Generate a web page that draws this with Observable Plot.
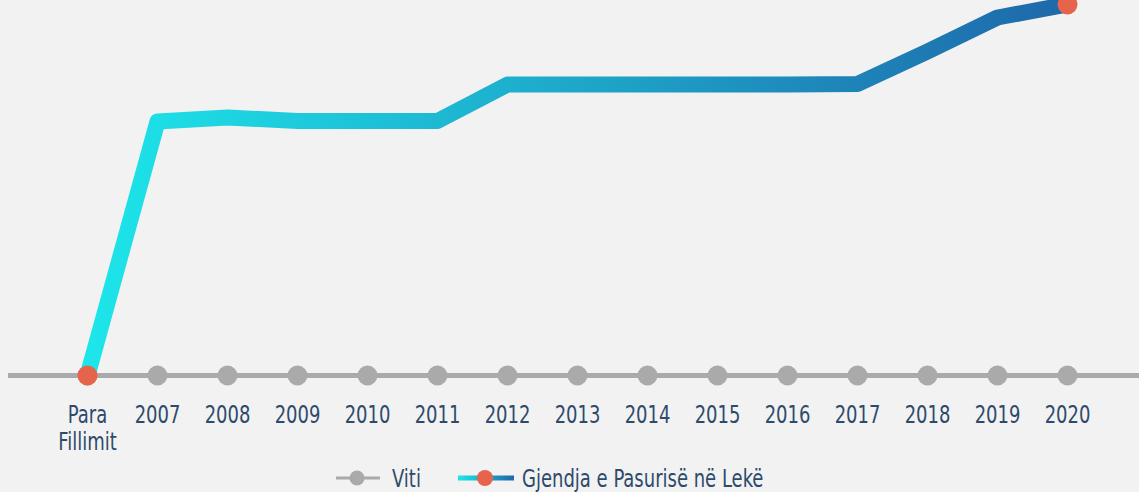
<!DOCTYPE html>
<html><head><meta charset="utf-8">
<script src="https://cdn.jsdelivr.net/npm/d3@7"></script>
<script src="https://cdn.jsdelivr.net/npm/@observablehq/plot@0.6"></script>
<style>
html,body{margin:0;padding:0;background:#f2f2f2;overflow:hidden;}
body{width:1139px;height:492px;font-family:"DejaVu Sans Condensed","DejaVu Sans",sans-serif;color:#2e4a6b;}
#chart svg{display:block;background:#f2f2f2;}
#legend{position:relative;height:32px;width:1139px;}
#legend svg{position:absolute;}
#legend span{position:absolute;font-size:25px;line-height:25px;top:6px;white-space:nowrap;transform:scaleX(0.8);transform-origin:0 0;}
</style></head><body>
<div id="chart"></div>
<div id="legend"></div>
<script>
const categories = ["Para Fillimit","2007","2008","2009","2010","2011","2012","2013","2014","2015","2016","2017","2018","2019","2020"];
const values = [0, 254, 258, 254.5, 254.5, 254.5, 291, 291, 291, 291, 291, 291.5, 324, 358, 371];
const seriesName = "Gjendja e Pasurisë në Lekë";
const axisName = "Viti";

const data = categories.map((c, i) => ({cat: c, value: values[i]}));
const ends = [data[0], data[data.length - 1]];

const gradStart = "#1de6ea", gradEnd = "#1e68aa";
const grey = "#aaaaaa", orange = "#e6644b", textColor = "#2e4a6b";

const defs = () => {
  const d = d3.create("svg:defs");
  const g = d.append("linearGradient").attr("id", "lineGrad").attr("x1", "0").attr("x2", "1").attr("y1", "0").attr("y2", "0");
  g.append("stop").attr("offset", "0%").attr("stop-color", gradStart);
  g.append("stop").attr("offset", "100%").attr("stop-color", gradEnd);
  return d.node();
};

const chart = Plot.plot({
  width: 1139,
  height: 460,
  marginLeft: 87,
  marginRight: 72,
  marginTop: 4,
  marginBottom: 85,
  style: {background: "#f2f2f2", fontFamily: "'DejaVu Sans Condensed','DejaVu Sans',sans-serif"},
  x: {type: "point", domain: categories, padding: 0},
  y: {domain: [0, 371], axis: null},
  marks: [
    defs,
    Plot.ruleY([0], {stroke: grey, strokeWidth: 5, insetLeft: -79, insetRight: -72}),
    Plot.dot(data, {x: "cat", y: 0, r: 10, fill: grey}),
    Plot.line(data, {x: "cat", y: "value", stroke: "url(#lineGrad)", strokeWidth: 16, strokeLinejoin: "round", strokeLinecap: "round"}),
    Plot.dot(ends, {x: "cat", y: "value", r: 10, fill: orange}),
    Plot.axisX({tickSize: 0, tickPadding: 28, fontSize: 25, color: textColor, fill: textColor,
      tickFormat: d => d === "Para Fillimit" ? "Para\nFillimit" : d, lineHeight: 1.08, label: null})
  ]
});
document.getElementById("chart").appendChild(chart);
// condense axis label glyphs horizontally (narrow typeface look)
chart.querySelectorAll("g[aria-label='x-axis tick label'] text").forEach(t => {
  const tr = t.getAttribute("transform") || "";
  t.setAttribute("transform", tr + " scale(0.8,1)");
});

const legend = document.getElementById("legend");
legend.innerHTML = `
<svg style="left:336px;top:0" width="44" height="32"><line x1="0" x2="44" y1="18" y2="18" stroke="${grey}" stroke-width="3"/><circle cx="21" cy="18" r="7.5" fill="${grey}"/></svg>
<span style="left:392px">${axisName}</span>
<svg style="left:458px;top:0" width="56" height="32"><defs><linearGradient id="lg2" x1="0" x2="1"><stop offset="0" stop-color="${gradStart}"/><stop offset="1" stop-color="${gradEnd}"/></linearGradient></defs><rect x="0" y="15.5" width="56" height="5" fill="url(#lg2)"/><circle cx="27" cy="18" r="8" fill="${orange}"/></svg>
<span style="left:522px">${seriesName}</span>`;
</script>
</body></html>
